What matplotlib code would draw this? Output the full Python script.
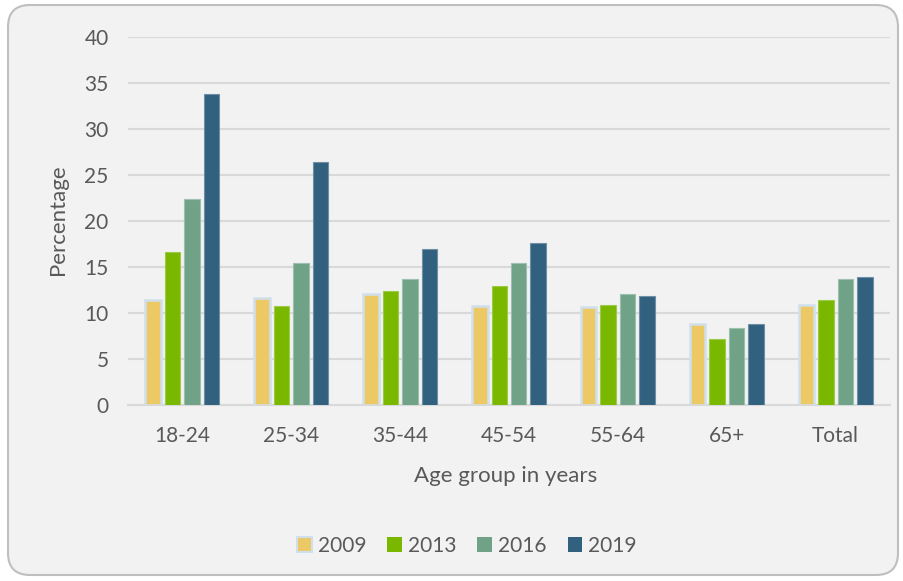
import numpy as np
import matplotlib
matplotlib.use('Agg')
import matplotlib.pyplot as plt
from matplotlib.patches import Patch, FancyBboxPatch

categories = ['18-24', '25-34', '35-44', '45-54', '55-64', '65+', 'Total']
years = ['2009', '2013', '2016', '2019']
v2009 = [11.4, 11.6, 12.1, 10.8, 10.6, 8.8, 10.9]
v2013 = [16.6, 10.8, 12.4, 12.9, 10.9, 7.2, 11.4]
v2016 = [22.4, 15.4, 13.7, 15.4, 12.1, 8.4, 13.7]
v2019 = [33.8, 26.4, 17.0, 17.6, 11.9, 8.8, 13.9]

colors = ['#EDC965', '#7AB800', '#6FA287', '#31617F']
edges = ['#CFE0EC', '#9CCB4A', '#9DBFAD', '#6E8FA5']
text_col = '#595959'
plt.rcParams['font.family'] = ['Lato', 'DejaVu Sans']

fig = plt.figure(figsize=(9.04, 5.81), dpi=100, facecolor='white')
# rounded chart frame, behind the axes
frame = FancyBboxPatch((8, 6), 890, 570, boxstyle='round,pad=0,rounding_size=22',
                       transform=None, facecolor='#F2F2F2', edgecolor='#BFBFBF',
                       linewidth=1.5, zorder=-10)
fig.patches.append(frame)

ax = fig.add_axes([128/904, 1-405/581, 762/904, 368/581])
ax.set_facecolor('none')

x = np.arange(len(categories))
pitch = 0.179
width = 0.142
series = [v2009, v2013, v2016, v2019]
for i, vals in enumerate(series):
    lw = 1.8 if i == 0 else 0.8
    ax.bar(x + (i - 1.5) * pitch, vals, width, color=colors[i],
           edgecolor=edges[i], linewidth=lw, zorder=3)

ax.set_xlim(-0.5, len(categories) - 0.5)
ax.set_ylim(0, 40)
ax.set_yticks(range(0, 41, 5))
ax.set_xticks(x)
ax.set_xticklabels(categories)
ax.grid(axis='y', color='#D9D9D9', linewidth=1.5, zorder=0)
for s in ['top', 'right', 'left']:
    ax.spines[s].set_visible(False)
ax.spines['bottom'].set_color('#D9D9D9')
ax.spines['bottom'].set_linewidth(1.5)
ax.tick_params(axis='both', length=0, labelsize=15, colors=text_col)
ax.tick_params(axis='y', pad=14)
ax.tick_params(axis='x', pad=15)

fig.text(58/904, 1-220/581, 'Percentage', rotation=90, ha='center', va='center',
         fontsize=16, color=text_col)
fig.text(506/904, 1-476/581, 'Age group in years', ha='center', va='center',
         fontsize=16, color=text_col)

handles = [Patch(facecolor=colors[i], edgecolor=edges[i] if i == 0 else colors[i],
                 linewidth=1.5 if i == 0 else 0, label=years[i]) for i in range(4)]
leg = fig.legend(handles=handles, loc='center', bbox_to_anchor=(467/904, 1-546/581),
                 ncol=4, frameon=False, fontsize=15, handlelength=0.7,
                 handleheight=0.7, handletextpad=0.3, columnspacing=1.0)
for t in leg.get_texts():
    t.set_color(text_col)

fig.savefig('out.png', dpi=100, facecolor=fig.get_facecolor())
